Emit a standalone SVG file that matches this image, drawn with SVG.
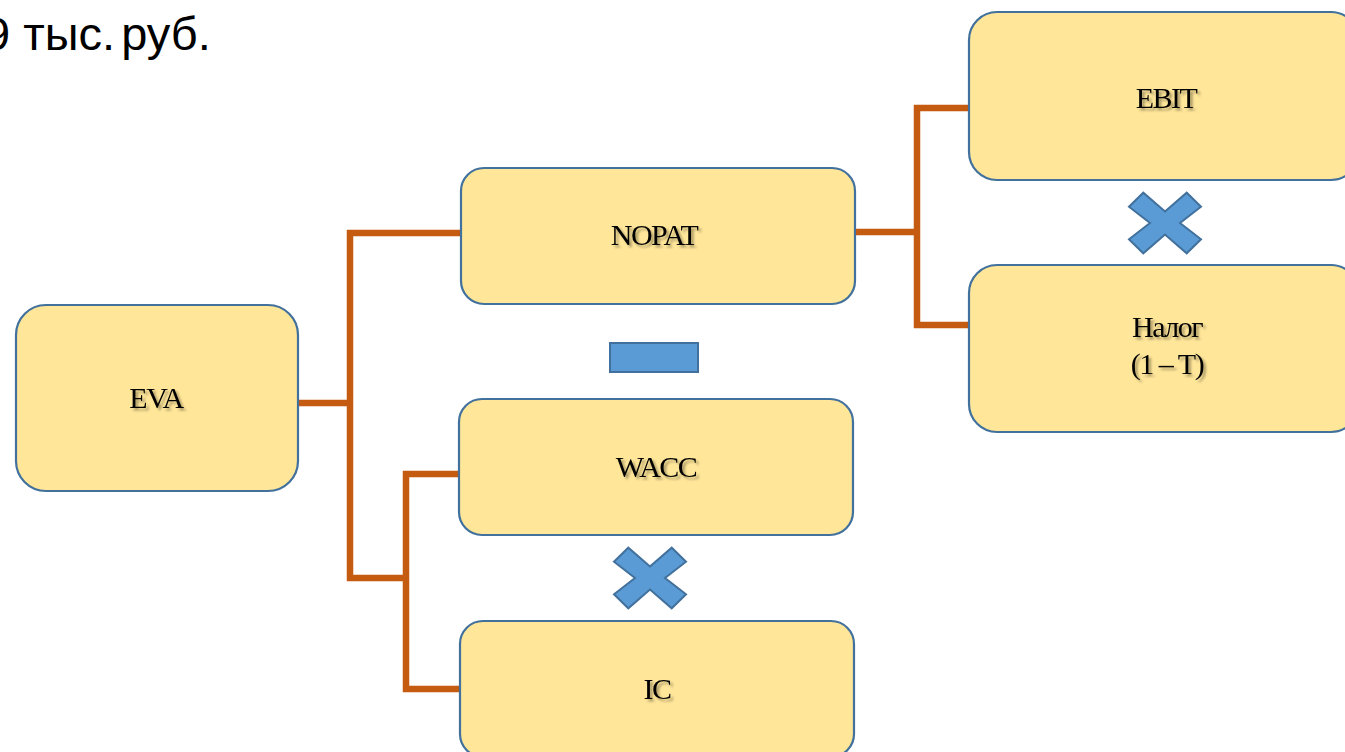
<svg xmlns="http://www.w3.org/2000/svg" width="1345" height="752" viewBox="0 0 1345 752">
<defs>
<filter id="sh" x="-20%" y="-40%" width="150%" height="190%">
<feDropShadow dx="2.5" dy="2.5" stdDeviation="1.2" flood-color="#000" flood-opacity="0.35"/>
</filter>
<style>
.box{fill:#FFE699;stroke:#41719C;stroke-width:2.2}
.lbl{font-family:"Liberation Serif","Times New Roman",serif;font-size:30px;fill:#000;text-anchor:middle;letter-spacing:-1.5px;filter:url(#sh)}
.con{fill:none;stroke:#C55A11;stroke-width:6.5;stroke-linecap:butt}
.op{fill:#5B9BD5;stroke:#41719C;stroke-width:2}
</style>
</defs>
<rect width="1345" height="752" fill="#fff"/>
<text x="-16" y="50" font-family="'Liberation Sans',Arial,sans-serif" font-size="47" fill="#000">9 тыс.<tspan dx="-7"> руб.</tspan></text>
<g id="connectors">
<path class="con" d="M298,403 H350 M350,230 V581 M347,233 H461 M347,578 H406 M406,471 V692 M403,474 H459 M403,689 H460"/>
<path class="con" d="M855,232 H917 M917,105 V328 M914,108 H969 M914,325 H969"/>
</g>
<g id="eva"><rect class="box" x="16" y="305" width="282" height="186" rx="30"/><text class="lbl" x="156" y="408">EVA</text></g>
<g id="nopat"><rect class="box" x="461" y="168" width="394" height="136" rx="23"/><text class="lbl" x="654" y="245">NOPAT</text></g>
<g id="wacc"><rect class="box" x="459" y="399" width="394" height="136" rx="23"/><text class="lbl" x="656" y="477">WACC</text></g>
<g id="ic"><rect class="box" x="460" y="621" width="394" height="136" rx="23"/><text class="lbl" x="657" y="699">IC</text></g>
<g id="ebit"><rect class="box" x="969" y="12" width="390" height="168" rx="28"/><text class="lbl" x="1166" y="108">EBIT</text></g>
<g id="nalog"><rect class="box" x="969" y="265" width="390" height="167" rx="28"/><text class="lbl" x="1167" y="337">Налог</text><text class="lbl" x="1167" y="374">(1 – T)</text></g>
<g id="minus"><rect class="op" x="610" y="343" width="88" height="29"/></g>
<g id="times1"><polygon class="op" transform="translate(650,578)" points="0,-11.5 21.7,-30.3 36,-16.3 15,0 36,16.3 21.7,30.3 0,11.5 -21.7,30.3 -36,16.3 -15,0 -36,-16.3 -21.7,-30.3"/></g>
<g id="times2"><polygon class="op" transform="translate(1165,223)" points="0,-11.5 21.7,-30.3 36,-16.3 15,0 36,16.3 21.7,30.3 0,11.5 -21.7,30.3 -36,16.3 -15,0 -36,-16.3 -21.7,-30.3"/></g>
</svg>
